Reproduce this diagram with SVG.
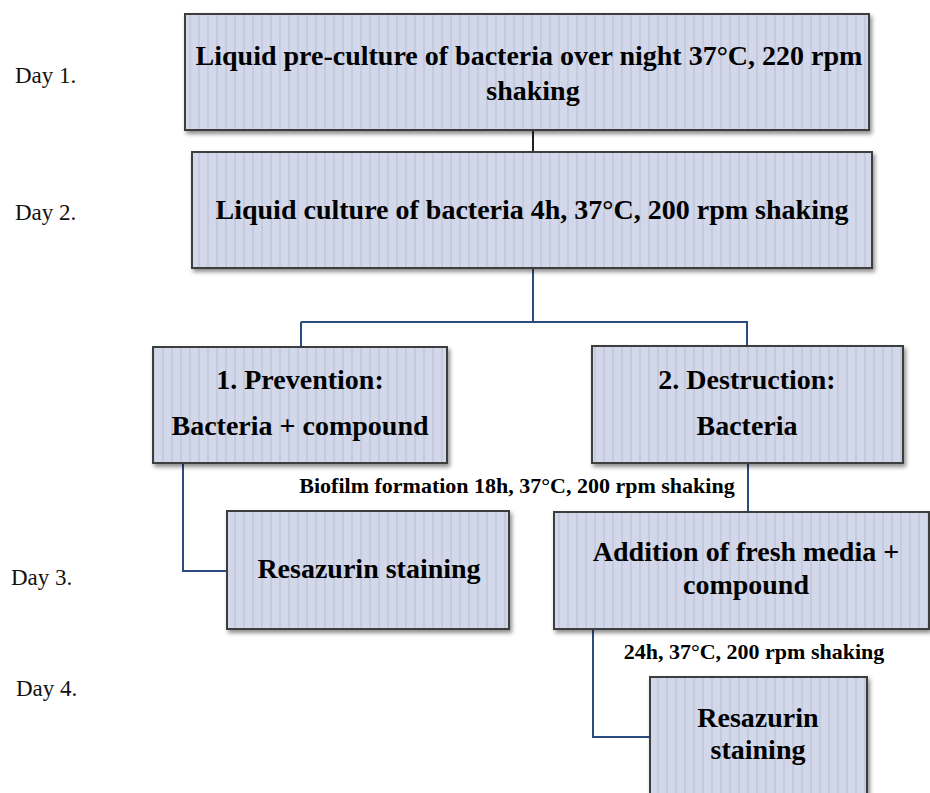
<svg xmlns="http://www.w3.org/2000/svg" width="930" height="793" viewBox="0 0 930 793">
<style>
.box{fill:url(#stripes);stroke:#3d3d3d;stroke-width:2;filter:url(#shadow)}
.bt{font-family:"Liberation Serif","Times New Roman",serif;font-weight:bold;font-size:28px;fill:#000;text-anchor:middle}
.lbl{font-family:"Liberation Serif","Times New Roman",serif;font-weight:bold;font-size:22px;fill:#000;text-anchor:middle}
.day{font-family:"Liberation Serif","Times New Roman",serif;font-size:23px;fill:#111}
.con{fill:none;stroke:#2b4c7e;stroke-width:2}
</style>
<defs>
<pattern id="stripes" patternUnits="userSpaceOnUse" width="9" height="10">
<rect width="9" height="10" fill="#d2d8ea"/>
<rect x="0" width="2" height="10" fill="#c5cbdf"/>
</pattern>
<filter id="shadow" x="-5%" y="-5%" width="115%" height="125%">
<feDropShadow dx="2" dy="3" stdDeviation="2" flood-color="#000" flood-opacity="0.45"/>
</filter>
</defs>
<rect width="930" height="793" fill="#fff"/>
<g id="days">
<text class="day" x="15" y="83">Day 1.</text>
<text class="day" x="15" y="220">Day 2.</text>
<text class="day" x="11" y="585">Day 3.</text>
<text class="day" x="16" y="696">Day 4.</text>
</g>
<g id="connectors">
<line x1="533" y1="130" x2="533" y2="152" stroke="#222" stroke-width="2"/>
<path class="con" d="M533 268 V322 M301 322 H748 M301 322 V347 M747 322 V346"/>
<path class="con" d="M183 463 V571 H227"/>
<path class="con" d="M748 463 V512"/>
<path class="con" d="M593 629 V737 H650"/>
</g>
<g id="n1">
<rect class="box" x="185" y="14" width="684" height="116"/>
<text class="bt" x="529" y="65">Liquid pre-culture of bacteria over night 37°C, 220 rpm</text>
<text class="bt" x="533" y="100">shaking</text>
</g>
<g id="n2">
<rect class="box" x="192" y="152" width="680" height="116"/>
<text class="bt" x="532" y="219">Liquid culture of bacteria 4h, 37°C, 200 rpm shaking</text>
</g>
<g id="n3">
<rect class="box" x="153" y="347" width="294" height="116"/>
<text class="bt" x="300" y="389">1. Prevention:</text>
<text class="bt" x="300" y="435">Bacteria + compound</text>
</g>
<g id="n4">
<rect class="box" x="592" y="346" width="311" height="117"/>
<text class="bt" x="747" y="389">2. Destruction:</text>
<text class="bt" x="747" y="435">Bacteria</text>
</g>
<g id="n5">
<rect class="box" x="227" y="511" width="282" height="118"/>
<text class="bt" x="369" y="578">Resazurin staining</text>
</g>
<g id="n6">
<rect class="box" x="554" y="512" width="375" height="117"/>
<text class="bt" x="746" y="561">Addition of fresh media +</text>
<text class="bt" x="746" y="594">compound</text>
</g>
<g id="n7">
<rect class="box" x="650" y="677" width="217" height="130"/>
<text class="bt" x="758" y="727">Resazurin</text>
<text class="bt" x="758" y="759">staining</text>
</g>
<g id="labels">
<text class="lbl" x="517" y="493">Biofilm formation 18h, 37°C, 200 rpm shaking</text>
<text class="lbl" x="754" y="659">24h, 37°C, 200 rpm shaking</text>
</g>
</svg>
